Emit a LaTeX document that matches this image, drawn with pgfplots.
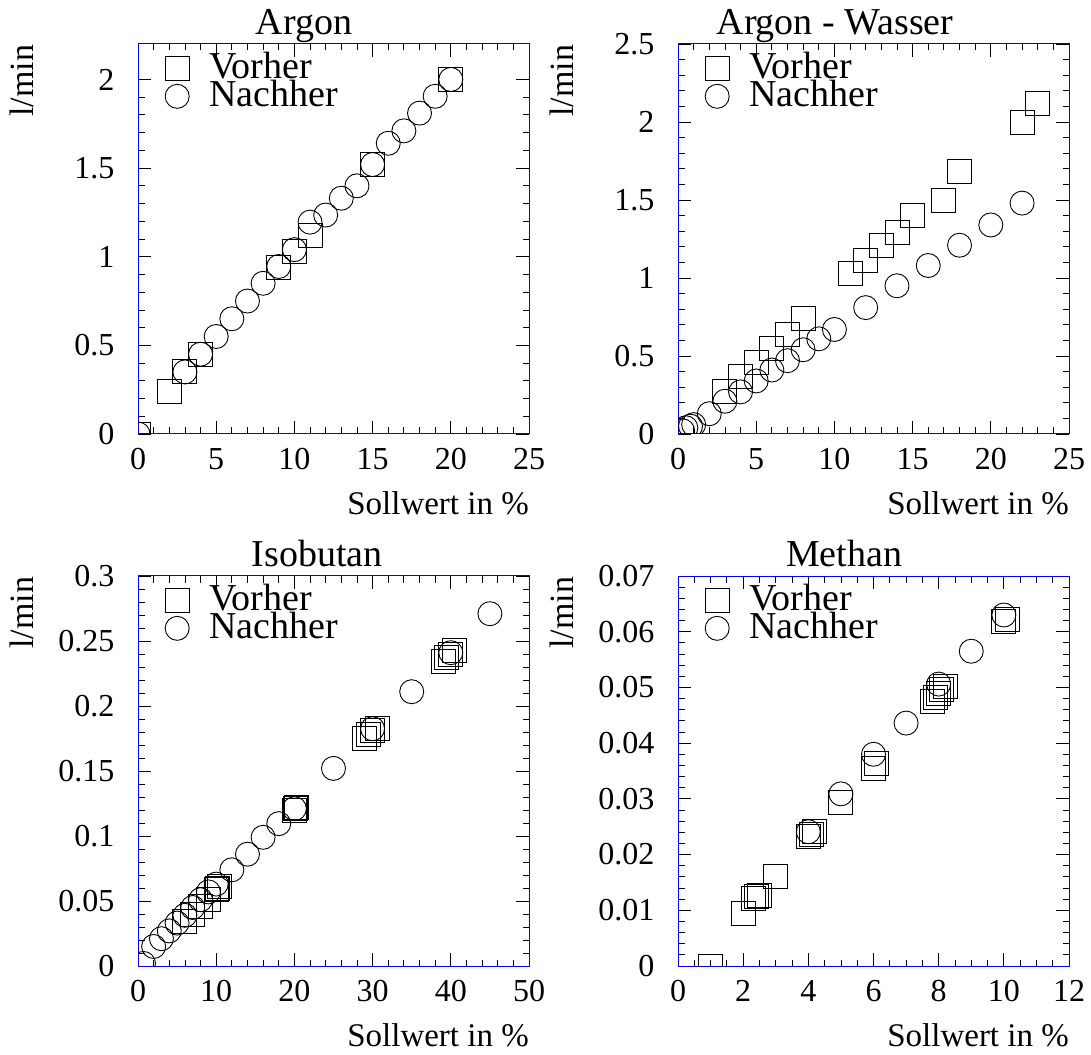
\documentclass[border=0pt]{standalone}
\usepackage{fontspec}
\setmainfont{Liberation Serif}
\usepackage{pgfplots}
\pgfplotsset{compat=1.18}

\pgfplotsset{
  rootframe/.style={
    scale only axis, width=391pt, height=390pt,
    xmin=0, ymin=0,
    axis line style={blue, line width=1pt},
    tick align=inside,
    major tick length=13pt, minor tick length=6.5pt,
    every tick/.style={black, line width=0.8pt},
    scaled ticks=false,
    /pgf/number format/fixed, /pgf/number format/precision=3,
    /pgf/number format/assume math mode=true,
    tick label style={font=\fontsize{32}{32}\selectfont},
    yticklabel style={xshift=-20pt},
    xticklabel style={yshift=-11pt},
    xlabel={Sollwert in \%},
    ylabel={l/min},
    xlabel style={at={(axis description cs:1,-0.207)}, anchor=base east,
      inner sep=0pt, font=\fontsize{33}{33}\selectfont},
    ylabel style={at={(axis description cs:-0.2685,0.998)}, anchor=base east,
      inner sep=0pt, font=\fontsize{34}{34}\selectfont},
    title style={anchor=base, inner sep=0pt, font=\fontsize{38}{38}\selectfont},
    legend cell align=left,
    legend style={at={(axis description cs:0.069,0.974)}, anchor=north west,
      draw=none, fill=none, inner sep=0pt, column sep=0pt, row sep=0pt,
      font=\fontsize{38}{38}\selectfont,
      nodes={inner sep=0pt, text height=24pt, text depth=4pt}},
    clip marker paths=true,
  },
  vor/.style={only marks, mark=square, mark size=12pt, black, line width=0.9pt,
    legend image code/.code={
      \draw[black, mark=square, mark size=12pt, line width=0.9pt] plot coordinates {(0pt,0pt)};
      \path[draw=none] (0pt,0pt) -- (32pt,0pt);}},
  nach/.style={only marks, mark=o, mark size=12pt, black, line width=0.9pt,
    legend image code/.code={
      \draw[black, mark=o, mark size=12pt, line width=0.9pt] plot coordinates {(0pt,0pt)};
      \path[draw=none] (0pt,0pt) -- (32pt,0pt);}},
}

\begin{document}
\begin{tikzpicture}
\useasboundingbox (0pt,0pt) rectangle (1091pt,1054pt);

% Argon
\begin{axis}[rootframe, at={(138pt,620pt)}, anchor=south west,
  title={Argon}, title style={at={(axis description cs:0.425,1.008)}},
  xmax=25, ymax=2.2, xtick={0,5,10,15,20,25}, ytick={0,0.5,1,1.5,2},
  minor x tick num=4, minor y tick num=4]
\addplot[vor] coordinates {(0,0) (2,0.24) (3,0.35) (4,0.45) (9,0.94) (10,1.03) (11,1.12) (15,1.52) (20,2.0)};
\addlegendentry{Vorher}
\addplot[nach] coordinates {(0,0) (3,0.35) (4,0.45) (5,0.55) (6,0.65) (7,0.75) (8,0.85) (9,0.945) (10,1.04) (11,1.195) (12,1.235) (13,1.33) (14,1.40) (15,1.52) (16,1.64) (17,1.71) (18,1.81) (19,1.905) (20,2.0)};
\addlegendentry{Nachher}
\end{axis}

% Argon - Wasser
\begin{axis}[rootframe, at={(678pt,620pt)}, anchor=south west,
  title={Argon - Wasser}, title style={at={(axis description cs:0.4015,1.008)}},
  xmax=25, ymax=2.5, xtick={0,5,10,15,20,25}, ytick={0,0.5,1,1.5,2,2.5},
  minor x tick num=4, minor y tick num=4]
\addplot[vor] coordinates {(3,0.27) (4,0.37) (5,0.46) (6,0.55) (7,0.64) (8,0.74) (11,1.03) (12,1.11) (13,1.21) (14,1.29) (15,1.40) (17,1.50) (18,1.68) (22,2.0) (23,2.12)};
\addlegendentry{Vorher}
\addplot[nach] coordinates {(0.3,0.02) (0.5,0.04) (0.8,0.05) (1,0.06) (2,0.13) (3,0.21) (4,0.27) (5,0.34) (6,0.41) (7,0.47) (8,0.54) (9,0.61) (10,0.67) (12,0.81) (14,0.95) (16,1.08) (18,1.21) (20,1.34) (22,1.48)};
\addlegendentry{Nachher}
\end{axis}

% Isobutan
\begin{axis}[rootframe, at={(138pt,88pt)}, anchor=south west,
  title={Isobutan}, title style={at={(axis description cs:0.458,1.008)}},
  xmax=50, ymax=0.3, xtick={0,10,20,30,40,50}, ytick={0,0.05,0.1,0.15,0.2,0.25,0.3},
  minor x tick num=4, minor y tick num=4]
\addplot[vor] coordinates {(6,0.034) (7,0.040) (8,0.046) (9,0.051) (10,0.059) (10.2,0.060) (10.4,0.061) (20,0.120) (20.1,0.121) (20.2,0.122) (29,0.175) (29.5,0.178) (30,0.181) (30.6,0.183) (39,0.234) (39.5,0.237) (40,0.240) (40.5,0.243)};
\addlegendentry{Vorher}
\addplot[nach] coordinates {(0.7,0.002) (2,0.015) (3,0.021) (4,0.027) (5,0.033) (6,0.039) (7,0.045) (8,0.051) (9,0.057) (10,0.063) (12,0.074) (14,0.086) (16,0.099) (18,0.1095) (20,0.121) (25,0.152) (30,0.1825) (35,0.211) (40,0.241) (45,0.271)};
\addlegendentry{Nachher}
\end{axis}

% Methan
\begin{axis}[rootframe, at={(678pt,88pt)}, anchor=south west,
  title={Methan}, title style={at={(axis description cs:0.425,1.008)}},
  xmax=12, ymax=0.07, xtick={0,2,4,6,8,10,12},
  ytick={0,0.01,0.02,0.03,0.04,0.05,0.06,0.07},
  minor x tick num=3, minor y tick num=4]
\addplot[vor] coordinates {(1,0) (2,0.0094) (2.3,0.0121) (2.4,0.0124) (2.5,0.0127) (3,0.016) (4,0.0232) (4.1,0.0237) (4.2,0.0241) (5,0.0294) (6,0.0354) (6.1,0.0364) (7.8,0.0475) (7.9,0.0482) (8,0.0489) (8.1,0.0496) (8.2,0.0502) (10,0.0619) (10.1,0.0622)};
\addlegendentry{Vorher}
\addplot[nach] coordinates {(4,0.0241) (5,0.0309) (6,0.038) (7,0.0436) (8,0.0506) (9,0.0565) (10,0.063)};
\addlegendentry{Nachher}
\end{axis}
\end{tikzpicture}
\end{document}
